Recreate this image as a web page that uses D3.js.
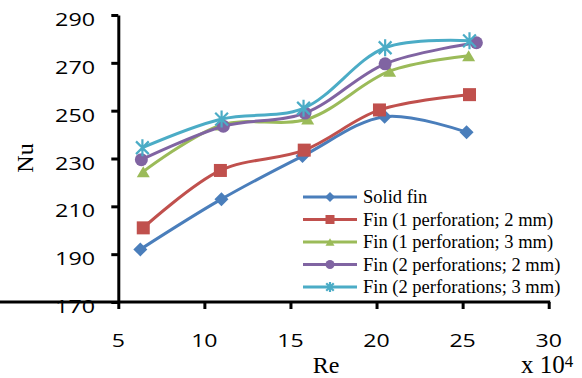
<!DOCTYPE html>
<html><head><meta charset="utf-8">
<script src="https://cdn.jsdelivr.net/npm/d3@7"></script>
<style>
html,body{margin:0;padding:0;background:#fff;}
svg{display:block;}
</style></head>
<body>
<svg id="chart" width="582" height="378"></svg>
<script>
// ---- data ----
const seriesNames = ["Solid fin","Fin (1 perforation; 2 mm)","Fin (1 perforation; 3 mm)","Fin (2 perforations; 2 mm)","Fin (2 perforations; 3 mm)"];
const seriesColors = ["#4a7ebb","#c0504d","#9bbb59","#8064a2","#4bacc6"];
const seriesMarkers = ["diamond","square","triangle","circle","star"];
const reSolid = [6.28, 10.99, 15.7, 20.47, 25.23];
const nuSolid = [192, 213, 231, 247.5, 241];
const reP1d2 = [6.45, 10.93, 15.8, 20.17, 25.4];
const nuP1d2 = [201, 225, 233.5, 250.3, 256.7];
const reP1d3 = [6.45, 11.0, 16.0, 20.76, 25.35];
const nuP1d3 = [224.5, 244, 246.5, 266.5, 273];
const reP2d2 = [6.34, 11.1, 15.85, 20.5, 25.8];
const nuP2d2 = [229.5, 243.5, 249, 269.6, 278.4];
const reP2d3 = [6.4, 11.0, 15.76, 20.5, 25.4];
const nuP2d3 = [234.5, 246.5, 251, 276.3, 279.2];
const xTicks = [5, 10, 15, 20, 25, 30];
const yTicks = [170, 190, 210, 230, 250, 270, 290];

const seriesX = [reSolid, reP1d2, reP1d3, reP2d2, reP2d3];
const seriesY = [nuSolid, nuP1d2, nuP1d3, nuP2d2, nuP2d3];

const svg = d3.select("#chart");
const x = d3.scaleLinear().domain([5, 30]).range([118.3, 548.7]);
const y = d3.scaleLinear().domain([170, 290]).range([302, 15]);

// axes
const xAxis = svg.append("g").attr("transform", "translate(0,302)")
  .call(d3.axisBottom(x).tickValues(xTicks).tickSize(7).tickSizeOuter(0).tickFormat(""));
const yAxis = svg.append("g").attr("transform", "translate(118.3,0)")
  .call(d3.axisLeft(y).tickValues(yTicks).tickSize(7).tickSizeOuter(0).tickFormat(""));
[xAxis, yAxis].forEach(a => {
  a.selectAll("path.domain").attr("stroke", "#000").attr("stroke-width", 3);
  a.selectAll(".tick line").attr("stroke", "#000").attr("stroke-width", 3);
});
xAxis.select("path.domain").attr("d", "M-1.5,0H" + (x(30) + 1.5));

const tickFont = "'Open Sans', sans-serif";
svg.append("g").selectAll("text").data(yTicks).join("text")
  .attr("x", 95).attr("y", d => y(d) + 11)
  .attr("text-anchor", "end")
  .attr("font-family", tickFont).attr("font-size", 19)
  .attr("textLength", d => String(d).length * 13.3)
  .attr("lengthAdjust", "spacingAndGlyphs")
  .text(d => d);
svg.append("g").selectAll("text").data(xTicks).join("text")
  .attr("x", d => x(d)).attr("y", 347)
  .attr("text-anchor", "middle")
  .attr("font-family", tickFont).attr("font-size", 19)
  .attr("textLength", d => String(d).length * 13.2)
  .attr("lengthAdjust", "spacingAndGlyphs")
  .text(d => d);

// axis titles
const serif = "'Liberation Serif', 'Times New Roman', serif";
svg.append("text").attr("transform", "translate(33,158) rotate(-90)")
  .attr("text-anchor", "middle").attr("font-family", serif).attr("font-size", 24).text("Nu");
svg.append("text").attr("x", 326).attr("y", 373)
  .attr("text-anchor", "middle").attr("font-family", serif).attr("font-size", 24).text("Re");
const mult = svg.append("text").attr("x", 521).attr("y", 373)
  .attr("font-family", serif).attr("font-size", 25);
mult.append("tspan").text("x 10");
mult.append("tspan").attr("font-size", 17).attr("dy", -6).text("4");

// markers
function drawMarker(g, type, cx, cy, s, color) {
  const r = s / 2;
  if (type === "diamond") {
    g.append("path").attr("d", `M${cx},${cy - r}L${cx + r},${cy}L${cx},${cy + r}L${cx - r},${cy}Z`).attr("fill", color);
  } else if (type === "square") {
    g.append("rect").attr("x", cx - r).attr("y", cy - r).attr("width", s).attr("height", s).attr("fill", color);
  } else if (type === "triangle") {
    const h = s * 0.85;
    g.append("path").attr("d", `M${cx},${cy - h / 2}L${cx + r},${cy + h / 2}L${cx - r},${cy + h / 2}Z`).attr("fill", color);
  } else if (type === "circle") {
    g.append("circle").attr("cx", cx).attr("cy", cy).attr("r", r).attr("fill", color);
  } else if (type === "star") {
    const d = r * 0.75;
    g.append("path").attr("d",
      `M${cx},${cy - r}V${cy + r}M${cx - d},${cy - d}L${cx + d},${cy + d}M${cx - d},${cy + d}L${cx + d},${cy - d}`)
      .attr("stroke", color).attr("stroke-width", 2.2).attr("fill", "none");
  }
}
const markerSize = [14, 13, 13, 13, 17];
const legendMarkerSize = [10, 9, 9, 9, 10];

const line = d3.line().x(d => x(d[0])).y(d => y(d[1])).curve(d3.curveCatmullRom.alpha(0.5));
seriesNames.forEach((name, i) => {
  const pts = seriesX[i].map((v, j) => [v, seriesY[i][j]]);
  const g = svg.append("g");
  g.append("path").attr("d", line(pts)).attr("fill", "none")
    .attr("stroke", seriesColors[i]).attr("stroke-width", 3).attr("stroke-linejoin", "round");
  pts.forEach(p => drawMarker(g, seriesMarkers[i], x(p[0]), y(p[1]), markerSize[i], seriesColors[i]));
});

// legend
const leg = svg.append("g");
seriesNames.forEach((name, i) => {
  const ly = 197 + i * 22.5;
  leg.append("line").attr("x1", 303).attr("x2", 357).attr("y1", ly).attr("y2", ly)
    .attr("stroke", seriesColors[i]).attr("stroke-width", 3);
  drawMarker(leg, seriesMarkers[i], 330, ly, legendMarkerSize[i], seriesColors[i]);
  leg.append("text").attr("x", 363).attr("y", ly + 6)
    .attr("font-family", serif).attr("font-size", 18.5).text(name);
});
</script>
</body></html>
